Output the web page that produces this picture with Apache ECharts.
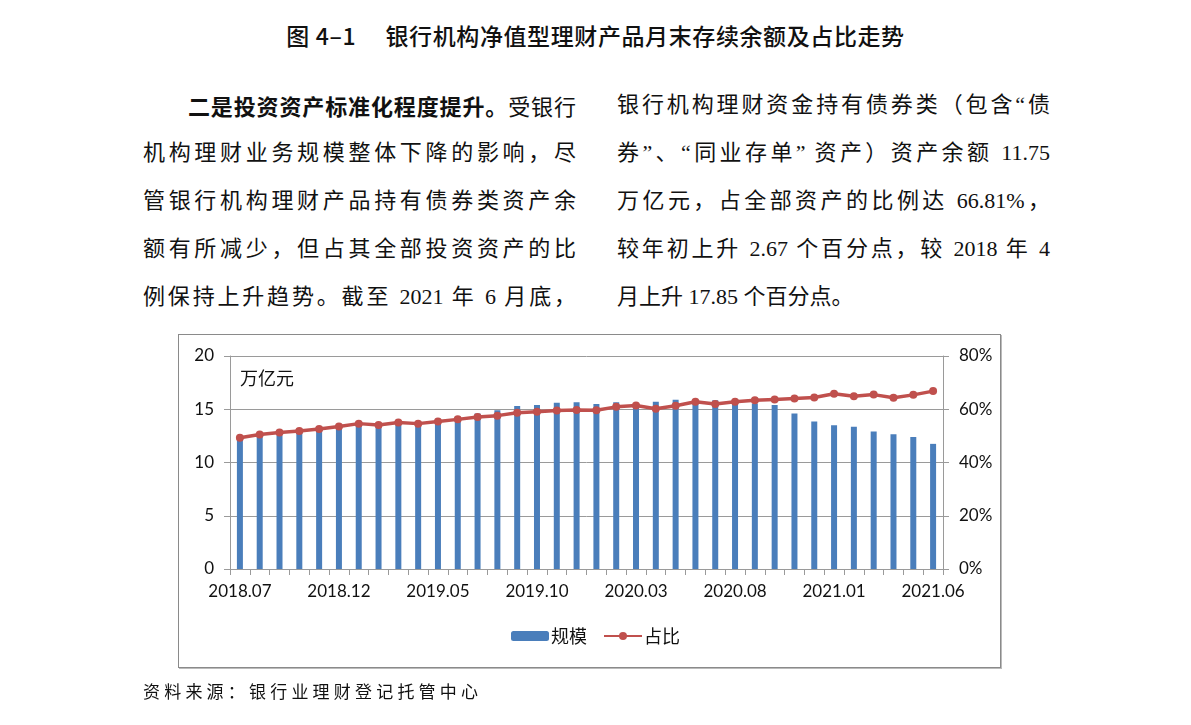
<!DOCTYPE html>
<html><head><meta charset="utf-8">
<script src="https://cdn.jsdelivr.net/npm/echarts@6/dist/echarts.min.js"></script>
<style>
html,body{margin:0;padding:0;background:#fff;}
body{width:1191px;height:725px;position:relative;overflow:hidden;}
.title{position:absolute;left:0;width:1191px;top:18px;text-align:center;font-family:"Noto Sans CJK SC";font-size:23px;letter-spacing:0.6px;font-weight:500;color:#111;white-space:pre;}
.ln{position:absolute;font-family:"Liberation Serif","Noto Sans CJK SC";font-size:22px;color:#111;white-space:nowrap;text-align:justify;text-align-last:justify;height:30px;line-height:30px;}
.ln.nj{text-align:left;text-align-last:left;}
.ln b{font-family:"Noto Sans CJK SC";font-weight:700;}
.box{position:absolute;left:178px;top:334px;width:821px;height:332px;border:1px solid #8a8a8a;box-shadow:1px 1px 0 #bbb;}
#chart{position:absolute;left:0;top:0;width:1191px;height:725px;}
.src{position:absolute;left:143px;top:678px;font-family:"Noto Sans CJK SC";font-size:17px;letter-spacing:4.2px;color:#111;white-space:nowrap;}
</style></head>
<body>
<div class="title">图 4–1　 银行机构净值型理财产品月末存续余额及占比走势</div>
<div id="paras"></div>
<div class="box"></div>
<div id="chart"></div>
<div class="src">资料来源：银行业理财登记托管中心</div>
<script>
// ---- data ----
var months = ['2018.07','2018.08','2018.09','2018.10','2018.11','2018.12',
  '2019.01','2019.02','2019.03','2019.04','2019.05','2019.06','2019.07','2019.08','2019.09','2019.10','2019.11','2019.12',
  '2020.01','2020.02','2020.03','2020.04','2020.05','2020.06','2020.07','2020.08','2020.09','2020.10','2020.11','2020.12',
  '2021.01','2021.02','2021.03','2021.04','2021.05','2021.06'];
var scaleVals = [12.2,12.45,12.55,12.8,13.05,13.35,13.5,13.4,13.7,13.6,14.1,14.3,14.6,14.9,15.3,15.4,15.6,15.65,
  15.5,15.65,15.55,15.7,15.9,15.75,15.85,15.75,15.55,15.4,14.6,13.85,13.5,13.35,12.9,12.65,12.4,11.75];
var shareVals = [49.3,50.5,51.3,51.8,52.6,53.5,54.6,54.1,55.0,54.6,55.4,56.2,57.1,57.6,58.7,59.1,59.5,59.7,
  59.6,60.9,61.4,60.2,61.3,62.8,62.0,62.8,63.4,63.7,64.0,64.4,65.8,64.9,65.5,64.3,65.4,66.81];
var leftTicks = [0,5,10,15,20];
var rightTicks = [0,20,40,60,80];
var seriesNames = ['规模','占比'];
var unitLabel = '万亿元';
var leftLines = [
  '<b>二是投资资产标准化程度提升。</b>受银行',
  '机构理财业务规模整体下降的影响，尽',
  '管银行机构理财产品持有债券类资产余',
  '额有所减少，但占其全部投资资产的比',
  '例保持上升趋势。截至 2021 年 6 月底，'
];
var rightLines = [
  '银行机构理财资金持有债券类（包含“债',
  '券”、“同业存单” 资产）资产余额 11.75',
  '万亿元，占全部资产的比例达 66.81%，',
  '较年初上升 2.67 个百分点，较 2018 年 4',
  '月上升 17.85 个百分点。'
];

// ---- paragraphs ----
var p = document.getElementById('paras');
var tops = [90,138,186,234,282];
leftLines.forEach(function(t,i){
  var d=document.createElement('div');d.className='ln';
  var l = i===0?188:143; d.style.left=l+'px'; d.style.width=(576-l)+'px'; d.style.top=tops[i]+'px';
  d.innerHTML=t; p.appendChild(d);
});
rightLines.forEach(function(t,i){
  var d=document.createElement('div');d.className='ln'+(i===rightLines.length-1?' nj':'');
  d.style.left='617px'; d.style.width='433px'; d.style.top=tops[i]+'px';
  d.innerHTML=t; p.appendChild(d);
});

// ---- chart ----
var chart = echarts.init(document.getElementById('chart'));
var axisGray = '#9a9a9a';
var lblFont = {fontFamily:'Lato', fontSize:17, color:'#111'};
chart.setOption({
  animation:false,
  grid:{left:230, right:248, top:356, bottom:156},
  legend:{
    data:[seriesNames[0], seriesNames[1]], left:'center', top:622,
    itemWidth:38, itemHeight:10, itemGap:16,
    textStyle:{fontFamily:'Noto Sans CJK SC', fontSize:18, color:'#111', padding:[0,0,0,-3]}
  },
  graphic:[{type:'text', left:240, top:369, style:{text:unitLabel, font:'18px "Noto Sans CJK SC"', fill:'#111'}}],
  xAxis:{
    type:'category', data:months, boundaryGap:true,
    axisLine:{lineStyle:{color:axisGray}},
    axisTick:{show:true, interval:0, length:6, lineStyle:{color:axisGray}},
    axisLabel:Object.assign({interval:4, margin:14}, lblFont)
  },
  yAxis:[{
    type:'value', min:leftTicks[0], max:leftTicks[leftTicks.length-1], interval:5,
    axisLine:{show:true, lineStyle:{color:axisGray}},
    axisTick:{show:true, length:6, lineStyle:{color:axisGray}},
    splitLine:{lineStyle:{color:axisGray}},
    axisLabel:Object.assign({margin:16}, lblFont)
  },{
    type:'value', min:rightTicks[0], max:rightTicks[rightTicks.length-1], interval:20,
    axisLine:{show:true, lineStyle:{color:axisGray}},
    axisTick:{show:true, length:6, lineStyle:{color:axisGray}},
    splitLine:{show:false},
    axisLabel:Object.assign({margin:16, formatter:'{value}%'}, lblFont)
  }],
  series:[{
    name:seriesNames[0], type:'bar', data:scaleVals, barWidth:6, yAxisIndex:0,
    itemStyle:{color:'#4a7ebb'}
  },{
    name:seriesNames[1], type:'line', data:shareVals, yAxisIndex:1,
    symbol:'circle', symbolSize:8,
    lineStyle:{color:'#c0504d', width:3.5}, itemStyle:{color:'#c0504d'}
  }]
});
</script>
</body></html>
